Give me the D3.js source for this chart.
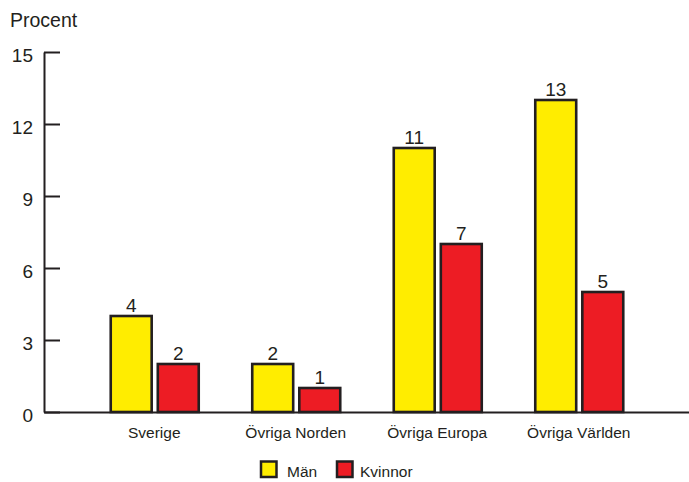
<!DOCTYPE html>
<html>
<head>
<meta charset="utf-8">
<script src="https://cdn.jsdelivr.net/npm/d3@7"></script>
<style>
  html, body { margin: 0; padding: 0; background: #fff; }
  svg { display: block; font-family: "Liberation Sans", Arial, Helvetica, sans-serif; }
</style>
</head>
<body>
<svg id="chart" width="689" height="482"></svg>
<script>
// Andel per ursprungsregion, procent
const categories = ["Sverige", "Övriga Norden", "Övriga Europa", "Övriga Världen"];
const series = ["Män", "Kvinnor"];
const manValues = [4, 2, 11, 13];
const kvinnorValues = [2, 1, 7, 5];
const yTicks = [0, 3, 6, 9, 12, 15];
const yLabel = "Procent";

const colors = { "Män": "#FFED00", "Kvinnor": "#ED1C24" };
const ink = "#231F20";

const rows = categories.map((c, i) => ({
  category: c,
  values: [
    { key: "Män", value: manValues[i] },
    { key: "Kvinnor", value: kvinnorValues[i] }
  ]
}));

const svg = d3.select("#chart");

const axisX = 44;
const baseY = 412;

const y = d3.scaleLinear().domain([0, 15]).range([baseY, 52]);

const x0 = d3.scaleBand()
  .domain(categories)
  .range([axisX, 689])
  .paddingInner(0)
  .paddingOuter(0.279);

const bw = x0.bandwidth();
const x1 = d3.scaleBand()
  .domain(series)
  .range([bw / 2 - 44, bw / 2 + 44])
  .paddingInner(0.13);

// Bars
const groups = svg.append("g")
  .selectAll("g")
  .data(rows)
  .join("g")
  .attr("transform", d => `translate(${x0(d.category) + 0.5},0)`);

groups.selectAll("rect")
  .data(d => d.values)
  .join("rect")
  .attr("x", d => x1(d.key))
  .attr("width", x1.bandwidth())
  .attr("y", d => y(d.value))
  .attr("height", d => y(0) - y(d.value))
  .attr("fill", d => colors[d.key])
  .attr("stroke", ink)
  .attr("stroke-width", 2.6);

// Value labels
groups.selectAll("text.val")
  .data(d => d.values)
  .join("text")
  .attr("class", "val")
  .attr("x", d => x1(d.key) + x1.bandwidth() / 2)
  .attr("y", d => y(d.value) - 4)
  .attr("text-anchor", "middle")
  .attr("font-size", 19)
  .attr("fill", ink)
  .text(d => d.value);

// Y axis
const yAxis = svg.append("g")
  .attr("transform", `translate(${axisX},0)`)
  .call(d3.axisLeft(y).tickValues(yTicks).tickSizeInner(-16).tickSizeOuter(0).tickPadding(11));
yAxis.select(".domain").attr("stroke", ink).attr("stroke-width", 2);
yAxis.selectAll(".tick line").attr("stroke", ink).attr("stroke-width", 2);
yAxis.selectAll(".tick text")
  .attr("font-size", 19)
  .attr("font-family", null)
  .attr("fill", ink)
  .attr("dy", "0.68em")
  .attr("y", -3);

// X axis
const xAxis = svg.append("g")
  .attr("transform", `translate(0,${baseY})`)
  .call(d3.axisBottom(x0).tickSize(0).tickSizeOuter(0).tickPadding(15));
xAxis.select(".domain").attr("stroke", ink).attr("stroke-width", 2);
xAxis.selectAll(".tick text")
  .attr("font-size", 15.5)
  .attr("font-family", null)
  .attr("fill", ink);

// Y-axis title
svg.append("text")
  .attr("x", 10)
  .attr("y", 27)
  .attr("font-size", 19.5)
  .attr("fill", ink)
  .text(yLabel);

// Legend
const legendPos = [{ x: 261, tx: 287 }, { x: 337, tx: 360 }];
const legend = svg.append("g");
series.forEach((s, i) => {
  legend.append("rect")
    .attr("x", legendPos[i].x)
    .attr("y", 461.5)
    .attr("width", 15.5)
    .attr("height", 15.5)
    .attr("fill", colors[s])
    .attr("stroke", ink)
    .attr("stroke-width", 2.5);
  legend.append("text")
    .attr("x", legendPos[i].tx)
    .attr("y", 477)
    .attr("font-size", 15.5)
    .attr("fill", ink)
    .text(s);
});
</script>
</body>
</html>
